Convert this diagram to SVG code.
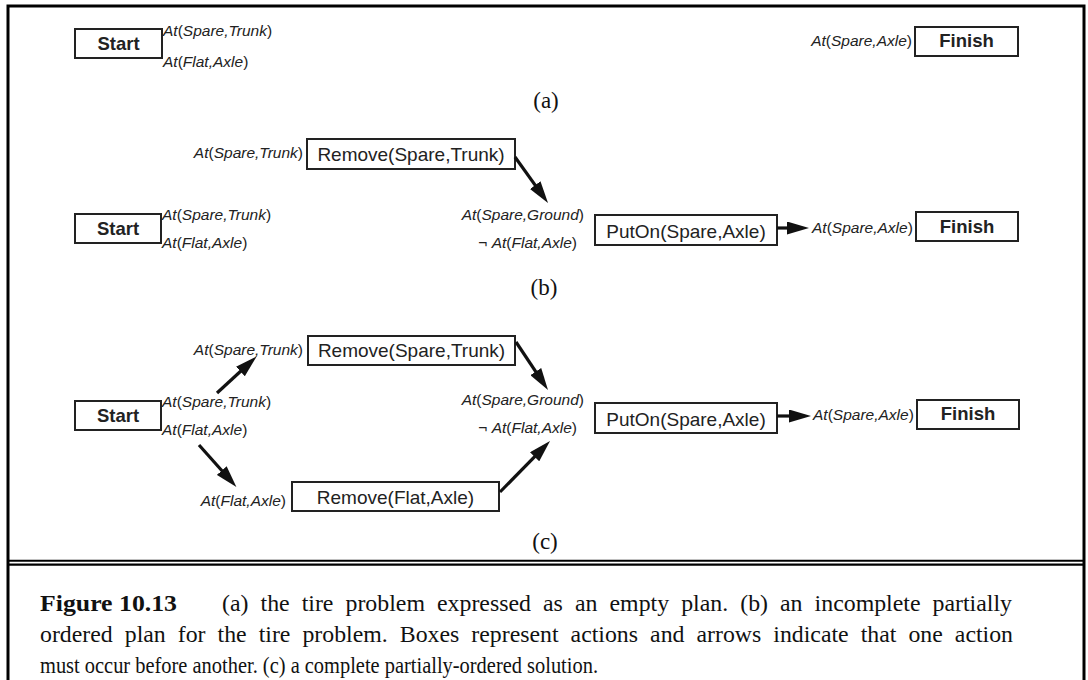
<svg xmlns="http://www.w3.org/2000/svg" width="1088" height="680" viewBox="0 0 1088 680">
<style>
.frame{stroke:#000;stroke-width:3;fill:none}
.box{fill:#fff;stroke:#222;stroke-width:2}
.term{font-family:"Liberation Sans",Arial,sans-serif;font-weight:bold;font-size:18.5px;fill:#222;text-anchor:middle}
.act{font-family:"Liberation Sans",Arial,sans-serif;font-size:19px;fill:#222;text-anchor:middle}
.lbl{font-family:"Liberation Sans",Arial,sans-serif;font-size:15.5px;fill:#222}
.i{font-style:italic}
.end{text-anchor:end}
.part{font-family:"Liberation Serif","Times New Roman",serif;font-size:23px;fill:#111;text-anchor:middle}
.cap{font-family:"Liberation Serif","Times New Roman",serif;font-size:23.5px;fill:#111}
.arr{stroke:#111;stroke-width:3.2;fill:none;marker-end:url(#ah)}
</style>
<defs>
<marker id="ah" markerUnits="userSpaceOnUse" markerWidth="22" markerHeight="13" refX="11" refY="6.5" orient="auto">
<path d="M0,0 L22,6.5 L0,13 z" fill="#111"/>
</marker>
</defs>
<rect width="1088" height="680" fill="#fff"/>
<g id="frame">
<path class="frame" d="M8,680 V6 H1084 V680"/>
<line x1="8" y1="560.8" x2="1084" y2="560.8" stroke="#000" stroke-width="2"/>
<line x1="8" y1="564.6" x2="1084" y2="564.6" stroke="#000" stroke-width="2.4"/>
</g>

<!-- (a) -->
<g id="a-start">
<rect class="box" x="75" y="29" width="87" height="29"/>
<text class="term" x="118.5" y="50">Start</text>
<text class="lbl" x="163" y="36"><tspan class="i">At</tspan>(<tspan class="i">Spare,Trunk</tspan>)</text>
<text class="lbl" x="163" y="67"><tspan class="i">At</tspan>(<tspan class="i">Flat,Axle</tspan>)</text>
</g>
<g id="a-finish">
<text class="lbl end" x="912" y="46"><tspan class="i">At</tspan>(<tspan class="i">Spare,Axle</tspan>)</text>
<rect class="box" x="915" y="27" width="103" height="29"/>
<text class="term" x="966.5" y="47">Finish</text>
</g>
<text class="part" x="546" y="108">(a)</text>

<!-- (b) -->
<g id="b-remove-spare">
<text class="lbl end" x="303" y="158"><tspan class="i">At</tspan>(<tspan class="i">Spare,Trunk</tspan>)</text>
<rect class="box" x="307" y="139" width="208" height="30"/>
<text class="act" x="411" y="161">Remove(Spare,Trunk)</text>
</g>
<g id="b-start">
<rect class="box" x="75" y="214" width="86" height="29"/>
<text class="term" x="118" y="235">Start</text>
<text class="lbl" x="162" y="220"><tspan class="i">At</tspan>(<tspan class="i">Spare,Trunk</tspan>)</text>
<text class="lbl" x="162" y="248"><tspan class="i">At</tspan>(<tspan class="i">Flat,Axle</tspan>)</text>
</g>
<g id="b-puton">
<text class="lbl end" x="584" y="220"><tspan class="i">At</tspan>(<tspan class="i">Spare,Ground</tspan>)</text>
<text class="lbl end" x="577" y="248">¬ <tspan class="i">At</tspan>(<tspan class="i">Flat,Axle</tspan>)</text>
<rect class="box" x="595" y="215" width="182" height="30"/>
<text class="act" x="686" y="238">PutOn(Spare,Axle)</text>
</g>
<g id="b-finish">
<text class="lbl" x="812" y="233"><tspan class="i">At</tspan>(<tspan class="i">Spare,Axle</tspan>)</text>
<rect class="box" x="916" y="212" width="102" height="29"/>
<text class="term" x="967" y="233">Finish</text>
</g>
<text class="part" x="544" y="295">(b)</text>

<!-- (c) -->
<g id="c-remove-spare">
<text class="lbl end" x="303" y="355"><tspan class="i">At</tspan>(<tspan class="i">Spare,Trunk</tspan>)</text>
<rect class="box" x="308" y="336" width="207" height="29"/>
<text class="act" x="411.5" y="357">Remove(Spare,Trunk)</text>
</g>
<g id="c-start">
<rect class="box" x="75" y="401" width="86" height="29"/>
<text class="term" x="118" y="422">Start</text>
<text class="lbl" x="162" y="407"><tspan class="i">At</tspan>(<tspan class="i">Spare,Trunk</tspan>)</text>
<text class="lbl" x="162" y="435"><tspan class="i">At</tspan>(<tspan class="i">Flat,Axle</tspan>)</text>
</g>
<g id="c-remove-flat">
<text class="lbl end" x="286" y="506"><tspan class="i">At</tspan>(<tspan class="i">Flat,Axle</tspan>)</text>
<rect class="box" x="292" y="482" width="207" height="29"/>
<text class="act" x="395.5" y="504">Remove(Flat,Axle)</text>
</g>
<g id="c-puton">
<text class="lbl end" x="584" y="405"><tspan class="i">At</tspan>(<tspan class="i">Spare,Ground</tspan>)</text>
<text class="lbl end" x="577" y="433">¬ <tspan class="i">At</tspan>(<tspan class="i">Flat,Axle</tspan>)</text>
<rect class="box" x="595" y="403" width="182" height="30"/>
<text class="act" x="686" y="426">PutOn(Spare,Axle)</text>
</g>
<g id="c-finish">
<text class="lbl" x="813" y="420"><tspan class="i">At</tspan>(<tspan class="i">Spare,Axle</tspan>)</text>
<rect class="box" x="917" y="400" width="102" height="29"/>
<text class="term" x="968" y="420">Finish</text>
</g>
<text class="part" x="545" y="549">(c)</text>

<g id="connectors">
<line class="arr" x1="515" y1="157" x2="541.6" y2="194.1"/>
<line class="arr" x1="777" y1="228" x2="798" y2="228"/>
<line class="arr" x1="217" y1="393" x2="248.5" y2="364"/>
<line class="arr" x1="199" y1="445" x2="229.1" y2="478.8"/>
<line class="arr" x1="500" y1="492" x2="542.3" y2="448.9"/>
<line class="arr" x1="516" y1="342" x2="541.9" y2="380.8"/>
<line class="arr" x1="777" y1="416" x2="800" y2="416"/>
</g>

<g id="caption">
<text class="cap" x="40" y="611" font-weight="bold" textLength="137" lengthAdjust="spacingAndGlyphs">Figure 10.13</text>
<text class="cap" x="222" y="611" word-spacing="6" textLength="790" lengthAdjust="spacingAndGlyphs">(a) the tire problem expressed as an empty plan. (b) an incomplete partially</text>
<text class="cap" x="40" y="642" word-spacing="6" textLength="973" lengthAdjust="spacingAndGlyphs">ordered plan for the tire problem. Boxes represent actions and arrows indicate that one action</text>
<text class="cap" x="40" y="673" textLength="558" lengthAdjust="spacingAndGlyphs">must occur before another. (c) a complete partially-ordered solution.</text>
</g>
</svg>
